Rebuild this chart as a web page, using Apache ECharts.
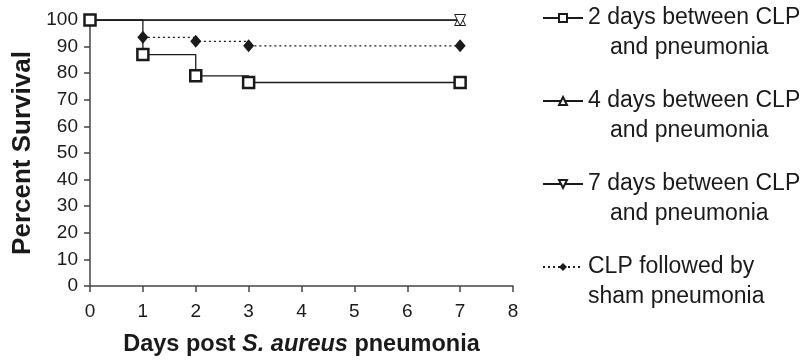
<!DOCTYPE html>
<html>
<head>
<meta charset="utf-8">
<script src="https://cdn.jsdelivr.net/npm/echarts@6/dist/echarts.min.js"></script>
<style>
  html, body { margin: 0; padding: 0; background: #fff; }
  #main { width: 806px; height: 362px; }
</style>
</head>
<body>
<div id="main"></div>
<script>
var xTicks = [0, 1, 2, 3, 4, 5, 6, 7, 8];
var yTicks = [0, 10, 20, 30, 40, 50, 60, 70, 80, 90, 100];

var seriesNames = ['2 days', '4 days', '7 days', 'sham'];
var legendLines = [
  ['2 days between CLP', 'and pneumonia'],
  ['4 days between CLP', 'and pneumonia'],
  ['7 days between CLP', 'and pneumonia'],
  ['CLP followed by', 'sham pneumonia']
];

// days and percent survival
var days2 = [0, 1, 2, 3, 7];
var surv2 = [100, 87, 79, 76.5, 76.5];
var days4 = [0, 7];
var surv4 = [100, 100];
var days7 = [0, 7];
var surv7 = [100, 100];
var daysSham = [1, 2, 3, 7];
var survSham = [93.5, 92, 90.3, 90.3];

function pairs(xs, ys) {
  return xs.map(function (x, i) { return [x, ys[i]]; });
}

var ink = '#1a1a1a';
var font = 'Liberation Sans, Arial, sans-serif';

var myChart = echarts.init(document.getElementById('main'));

var option = {
  animation: false,
  backgroundColor: '#fff',
  grid: { left: 90, right: 293, top: 20, bottom: 74 },
  xAxis: {
    type: 'value',
    min: xTicks[0],
    max: xTicks[xTicks.length - 1],
    interval: 1,
    name: '{n|Days post }{i|S. aureus}{n| pneumonia}',
    nameLocation: 'middle',
    nameGap: 47,
    nameTextStyle: {
      rich: {
        n: { fontFamily: font, fontSize: 23.5, fontWeight: 'bold', color: ink },
        i: { fontFamily: font, fontSize: 23.5, fontWeight: 'bold', fontStyle: 'italic', color: ink }
      }
    },
    axisLine: { show: true, lineStyle: { color: '#444', width: 1.5 } },
    axisTick: { show: true, length: 6, lineStyle: { color: '#444', width: 1.5 } },
    axisLabel: { color: ink, fontFamily: font, fontSize: 19, margin: 16 },
    splitLine: { show: false }
  },
  yAxis: {
    type: 'value',
    min: yTicks[0],
    max: yTicks[yTicks.length - 1],
    interval: 10,
    name: 'Percent Survival',
    nameLocation: 'middle',
    nameGap: 51,
    nameTextStyle: { fontFamily: font, fontSize: 26, fontWeight: 'bold', color: ink },
    axisLine: { show: true, lineStyle: { color: '#444', width: 1.5 } },
    axisTick: { show: true, length: 6, lineStyle: { color: '#444', width: 1.5 } },
    axisLabel: { color: ink, fontFamily: font, fontSize: 19, margin: 12 },
    splitLine: { show: false }
  },
  legend: {
    orient: 'vertical',
    left: 542,
    top: -27,
    padding: 0,
    itemWidth: 40,
    itemHeight: 10,
    itemGap: -7,
    data: seriesNames,
    formatter: function (name) {
      var i = seriesNames.indexOf(name);
      var l = legendLines[i];
      return '{a|' + l[0] + '}\n{' + (i < 3 ? 'b' : 'a') + '|' + l[1] + '}';
    },
    textStyle: {
      color: ink,
      fontFamily: font,
      fontSize: 23,
      lineHeight: 30,
      padding: [30, 0, 0, 0],
      rich: {
        a: { fontFamily: font, fontSize: 23, lineHeight: 30, color: ink },
        b: { fontFamily: font, fontSize: 23, lineHeight: 30, color: ink, padding: [0, 0, 0, 22] }
      }
    }
  },
  series: [
    {
      name: '4 days',
      type: 'line',
      step: 'end',
      data: pairs(days4, surv4),
      symbol: 'triangle',
      symbolSize: 11,
      lineStyle: { color: ink, width: 1.3 },
      itemStyle: { color: '#fff', borderColor: ink, borderWidth: 1 }
    },
    {
      name: '7 days',
      type: 'line',
      step: 'end',
      data: pairs(days7, surv7),
      symbol: 'triangle',
      symbolRotate: 180,
      symbolSize: 11,
      lineStyle: { color: ink, width: 1.3 },
      itemStyle: { color: '#fff', borderColor: ink, borderWidth: 1 }
    },
    {
      name: 'sham',
      type: 'line',
      step: 'end',
      data: pairs(daysSham, survSham),
      symbol: 'diamond',
      symbolSize: [11, 13],
      lineStyle: { color: ink, width: 1.3, type: [2, 3] },
      itemStyle: { color: ink, borderColor: ink, borderWidth: 0 }
    },
    {
      name: '2 days',
      type: 'line',
      step: 'end',
      data: pairs(days2, surv2),
      symbol: 'rect',
      symbolSize: 11,
      lineStyle: { color: ink, width: 1.3 },
      itemStyle: { color: '#fff', borderColor: ink, borderWidth: 2.5 }
    }
  ]
};

myChart.setOption(option);
</script>
</body>
</html>
